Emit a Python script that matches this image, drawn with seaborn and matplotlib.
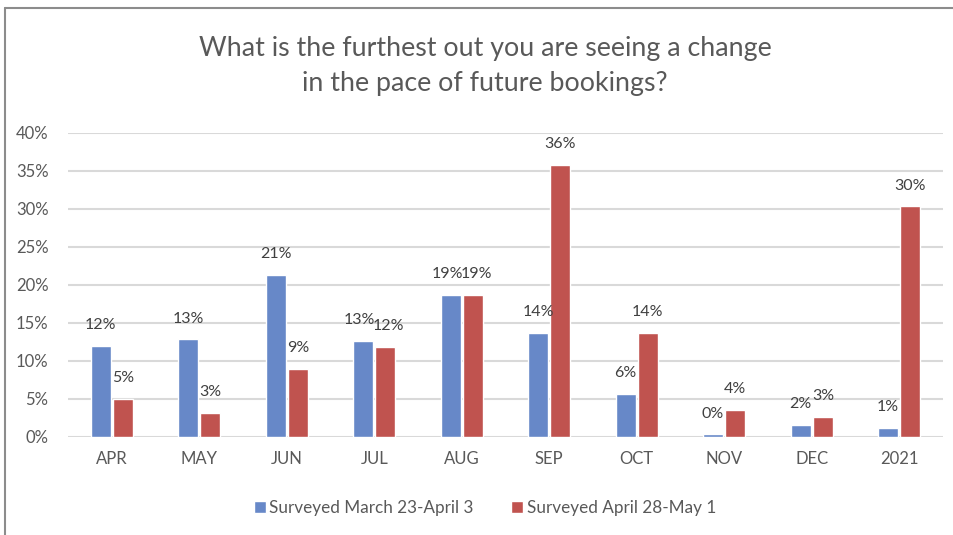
import numpy as np
import pandas as pd
import seaborn as sns
import matplotlib.pyplot as plt
from matplotlib.lines import Line2D

months = ["APR", "MAY", "JUN", "JUL", "AUG", "SEP", "OCT", "NOV", "DEC", "2021"]
series_names = ["Surveyed March 23-April 3", "Surveyed April 28-May 1"]
march_vals = [11.9, 12.8, 21.3, 12.6, 18.6, 13.6, 5.6, 0.3, 1.6, 1.2]
april_vals = [5.0, 3.1, 8.9, 11.8, 18.6, 35.8, 13.7, 3.5, 2.6, 30.3]
yticks = [0, 5, 10, 15, 20, 25, 30, 35, 40]
title = "What is the furthest out you are seeing a change\nin the pace of future bookings?"

df = pd.DataFrame({
    "month": months * 2,
    "survey": [series_names[0]] * len(months) + [series_names[1]] * len(months),
    "pct": march_vals + april_vals,
})

sns.set_theme(style="white")
plt.rcParams["font.family"] = ["Lato", "DejaVu Sans"]
text_col = "#595959"

fig = plt.figure(figsize=(9.54, 5.35), dpi=100)
ax = fig.add_axes([68 / 954, 1 - 436.7 / 535, 875 / 954, 304 / 535])

sns.barplot(data=df, x="month", y="pct", hue="survey", order=months,
            hue_order=series_names, palette=["#6788C8", "#C0534F"],
            width=0.51, gap=0.11, ax=ax, saturation=1)

# labels above bars; the close JUL/AUG pairs get pushed apart a little
for k, cont in enumerate(ax.containers):
    texts = ax.bar_label(cont, labels=[f"{v:.0f}%" for v in cont.datavalues],
                         padding=10, fontsize=11.5, color="#404040")
    shift = -0.04 if k == 0 else 0.04
    for i in (3, 4):
        x, y = texts[i].xy
        texts[i].xy = (x + shift, y)

ax.set_ylim(0, 40)
ax.set_xlim(-0.5, 9.5)
ax.set_yticks(yticks)
ax.set_yticklabels([f"{t}%" for t in yticks])
ax.yaxis.grid(True, color="#D9D9D9", linewidth=1.5)
ax.set_axisbelow(True)
for s in ax.spines.values():
    s.set_visible(False)
ax.tick_params(axis="both", length=0, labelsize=12, colors=text_col)
ax.tick_params(axis="y", pad=14)
ax.tick_params(axis="x", pad=10)
ax.set_xlabel("")
ax.set_ylabel("")

handles, labels = ax.get_legend_handles_labels()
ax.legend_.remove()
fig.legend(handles, labels, loc="center", bbox_to_anchor=(485 / 954, 1 - 508 / 535),
           ncol=2, frameon=False, fontsize=12.3, handlelength=0.7, handleheight=0.7,
           handletextpad=0.2, columnspacing=2.2, labelcolor=text_col)

fig.text(485 / 954, 1 - 66 / 535, title, ha="center", va="center",
         fontsize=19.3, color=text_col, linespacing=1.5)

# chart frame: only top and left edges are visible in the crop
top_y = 1 - 8 / 535
left_x = 5 / 954
fig.add_artist(Line2D([left_x, 1], [top_y, top_y], transform=fig.transFigure,
                      color="#8C8C8C", linewidth=1.5))
fig.add_artist(Line2D([left_x, left_x], [0, top_y], transform=fig.transFigure,
                      color="#8C8C8C", linewidth=1.5))

fig.savefig("out.png", dpi=100)
